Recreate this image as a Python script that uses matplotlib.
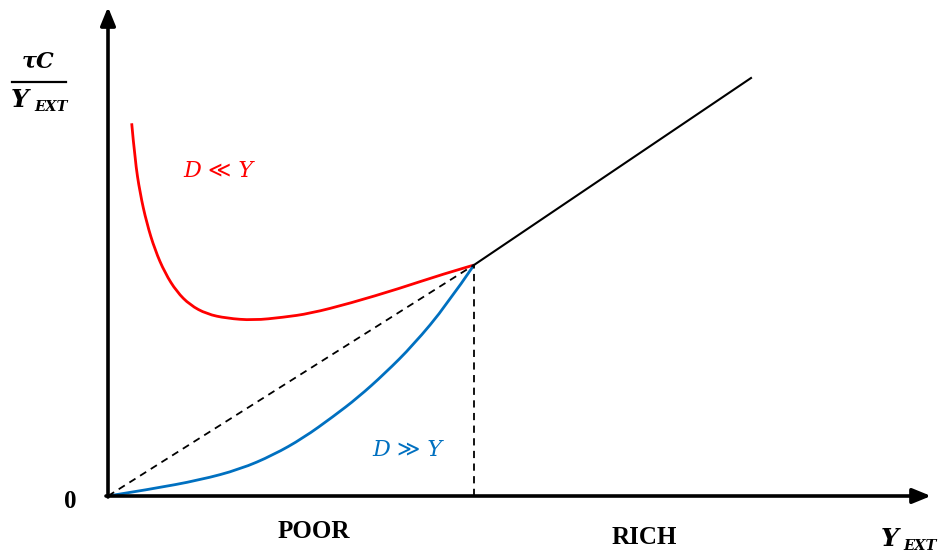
import matplotlib
matplotlib.use("Agg")
import matplotlib.pyplot as plt
from matplotlib.path import Path
from matplotlib.patches import PathPatch

# Schematic data (units: offset from origin)
red_x = [23.7, 27, 32, 38.7, 47, 57, 68.7, 82, 98.7, 118.7, 145.3, 175.3, 202, 242, 292, 332, 366]
red_y = [372.7, 336, 303, 273, 246, 223, 204.3, 191, 182, 177.7, 175.7, 178.7, 182.5, 192.7, 207.7, 221, 231]
blue_x = [0, 42, 92, 132, 165.3, 195.3, 225.3, 250, 277, 305.3, 338.7, 366]
blue_y = [0, 6.7, 16, 26.7, 41, 58, 79.5, 98.5, 122.7, 151, 191, 231]
join = (366, 231)
rich_end = (643, 418)

RED = "#FF0000"
BLUE = "#0070C0"


def smooth_curve(ax, xs, ys, color, lw):
    """Draw a smooth quadratic-Bezier curve guided by the read points."""
    pts = list(zip(xs, ys))
    verts = [pts[0]]
    codes = [Path.MOVETO]
    for i in range(1, len(pts) - 1):
        mid = ((pts[i][0] + pts[i + 1][0]) / 2, (pts[i][1] + pts[i + 1][1]) / 2)
        if i == len(pts) - 2:
            mid = pts[-1]
        verts += [pts[i], mid]
        codes += [Path.CURVE3, Path.CURVE3]
    ax.add_patch(PathPatch(Path(verts, codes), fill=False, edgecolor=color, lw=lw,
                           joinstyle="round", capstyle="butt"))


fig = plt.figure(figsize=(9.38, 5.56), dpi=100)
ax = fig.add_axes([0, 0, 1, 1])
ax.set_xlim(-108, 830)
ax.set_ylim(-60, 496)
ax.axis("off")

# axes arrows
ax.annotate("", xy=(0, 489), xytext=(0, -1),
            arrowprops=dict(arrowstyle="-|>,head_length=1.1,head_width=0.45", lw=2.6, color="black",
                            shrinkA=0, shrinkB=0))
ax.annotate("", xy=(823, 0), xytext=(-2, 0),
            arrowprops=dict(arrowstyle="-|>,head_length=1.1,head_width=0.45", lw=2.6, color="black",
                            shrinkA=0, shrinkB=0))

# curves
ax.plot([join[0], rich_end[0]], [join[1], rich_end[1]], color="black", lw=1.5)
ax.plot([0, join[0]], [0, join[1]], color="black", lw=1.3, ls=(0, (4, 3)))
ax.plot([join[0], join[0]], [0, join[1]], color="black", lw=1.3, ls=(0, (4, 3)))
smooth_curve(ax, red_x, red_y, RED, 2.0)
smooth_curve(ax, blue_x, blue_y, BLUE, 2.0)

serif = ["DejaVu Serif", "DejaVu Sans"]

# y label as fraction
ax.text(38 - 108, 496 - 62, "τC", fontsize=16, fontweight="bold", fontstyle="italic",
        family=serif, ha="center", va="center")
ax.plot([12 - 108, 66 - 108], [496 - 82, 496 - 82], color="black", lw=1.6)
ax.text(11 - 108, 496 - 100, "Y", fontsize=18, fontweight="bold", fontstyle="italic",
        family=serif, ha="left", va="center")
ax.text(34 - 108, 496 - 107, "EXT", fontsize=10.5, fontweight="bold", fontstyle="italic",
        family=serif, ha="left", va="center")

# x label
ax.text(881 - 108, 496 - 539, "Y", fontsize=18, fontweight="bold", fontstyle="italic",
        family=serif, ha="left", va="center")
ax.text(903 - 108, 496 - 546, "EXT", fontsize=10.5, fontweight="bold", fontstyle="italic",
        family=serif, ha="left", va="center")

# zero
ax.text(70 - 108, -5, "0", fontsize=18, fontweight="bold", family="Liberation Serif",
        ha="center", va="center")

# region labels
ax.text(314 - 108, 496 - 532, "POOR", fontsize=18, fontweight="bold", family="Liberation Serif",
        ha="center", va="center")
ax.text(644 - 108, 496 - 538, "RICH", fontsize=18, fontweight="bold", family="Liberation Serif",
        ha="center", va="center")

# curve labels
ax.text(218 - 108, 496 - 171, "D ≪ Y", fontsize=16, fontstyle="italic", family=serif,
        color=RED, ha="center", va="center")
ax.text(407 - 108, 496 - 450, "D ≫ Y", fontsize=16, fontstyle="italic", family=serif,
        color=BLUE, ha="center", va="center")

fig.savefig("out.png", dpi=100)
